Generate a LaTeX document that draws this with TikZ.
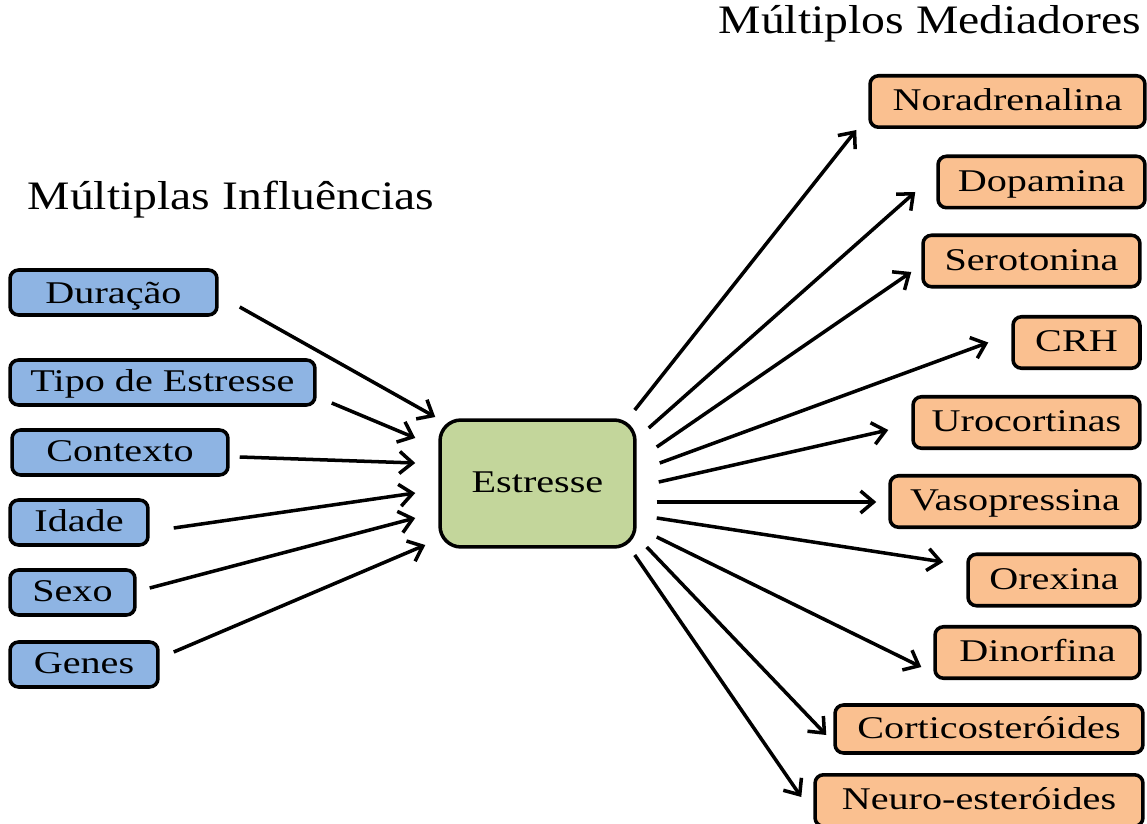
\documentclass[tikz,border=0pt]{standalone}
\usepackage{fontspec}
\setmainfont[FakeStretch=1.27]{Liberation Serif}
\newfontfamily\titlefont[FakeStretch=1.18]{Liberation Serif}
\usetikzlibrary{arrows.meta}
\definecolor{bluefill}{HTML}{8EB4E3}
\definecolor{greenfill}{HTML}{C3D69B}
\definecolor{orangefill}{HTML}{FAC090}
\tikzset{
  basebox/.style={draw=black, line width=2pt, rounded corners=0.17cm, inner sep=0pt,
    text height=0.66em, text depth=0pt, font=\fontsize{18}{21}\selectfont},
  inbox/.style={basebox, fill=bluefill, minimum height=0.9cm},
  outbox/.style={basebox, fill=orangefill, minimum height=1.03cm},
  centerbox/.style={basebox, fill=greenfill, rounded corners=0.42cm},
  titletext/.style={inner sep=0pt, font=\titlefont\fontsize{23}{27}\selectfont, anchor=base},
  arr/.style={line width=2pt, -{Straight Barb[length=0.26cm,width=0.44cm,line width=2pt]}}
}
\begin{document}
\begin{tikzpicture}[x=0.02cm,y=-0.02cm]
\useasboundingbox (0,0) rectangle (1147,824);
% titles
\node[titletext] (tin) at (231,210) {Múltiplas Influências};
\node[titletext] (tout) at (930,34) {Múltiplos Mediadores};
% influences
\node[inbox, minimum width=4.14cm] (dur) at (113.5,292.5) {\raisebox{-3pt}{Duração}};
\node[inbox, minimum width=6.10cm] (tipo) at (162.5,382.5) {\raisebox{-2pt}{Tipo de Estresse}};
\node[inbox, minimum width=4.32cm] (cont) at (120,452.5) {\raisebox{-2pt}{Contexto}};
\node[inbox, minimum width=2.76cm] (idade) at (79,522.5) {\raisebox{-2pt}{Idade}};
\node[inbox, minimum width=2.50cm] (sexo) at (72.5,592.5) {\raisebox{-2pt}{Sexo}};
\node[inbox, minimum width=2.96cm] (genes) at (84,664.5) {\raisebox{-2pt}{Genes}};
% center
\node[centerbox, minimum width=3.90cm, minimum height=2.54cm] (est) at (537.5,483.5) {\raisebox{-2pt}{Estresse}};
% mediators
\node[outbox, minimum width=5.50cm] (nor) at (1007.5,101.5) {\raisebox{-2pt}{Noradrenalina}};
\node[outbox, minimum width=4.14cm] (dop) at (1041.5,182) {\raisebox{-2pt}{Dopamina}};
\node[outbox, minimum width=4.34cm] (ser) at (1031.5,261) {\raisebox{-2pt}{Serotonina}};
\node[outbox, minimum width=2.54cm] (crh) at (1076.5,342.5) {\raisebox{-2pt}{CRH}};
\node[outbox, minimum width=4.54cm] (uro) at (1026.5,422.5) {\raisebox{-2pt}{Urocortinas}};
\node[outbox, minimum width=5.00cm] (vaso) at (1015,501.5) {\raisebox{-2pt}{Vasopressina}};
\node[outbox, minimum width=3.44cm] (orex) at (1054,580) {\raisebox{-2pt}{Orexina}};
\node[outbox, minimum width=4.10cm] (dino) at (1037.5,652.5) {\raisebox{-2pt}{Dinorfina}};
\node[outbox, minimum width=6.16cm, minimum height=0.96cm] (cort) at (989,729) {\raisebox{-2pt}{Corticosteróides}};
\node[outbox, minimum width=6.56cm] (neuro) at (979,800.5) {\raisebox{-2pt}{Neuro-esteróides}};
% incoming arrows
\draw[arr] ([shift={(21,14.5)}]dur.east) -- ([shift={(-3,-66.5)}]est.west);
\draw[arr] ([shift={(15,20.5)}]tipo.east) -- ([shift={(-23,-45.5)}]est.west);
\draw[arr] ([shift={(10,4.5)}]cont.east) -- ([shift={(-23,-20.5)}]est.west);
\draw[arr] ([shift={(24,5.5)}]idade.east) -- ([shift={(-23,9.5)}]est.west);
\draw[arr] ([shift={(13,-4.5)}]sexo.east) -- ([shift={(-23,34.5)}]est.west);
\draw[arr] ([shift={(14,-12.5)}]genes.east) -- ([shift={(-13,61.5)}]est.west);
% outgoing arrows
\draw[arr] ([shift={(-2,-73.5)}]est.east) -- ([shift={(-12,28.5)}]nor.west);
\draw[arr] ([shift={(12,-55.5)}]est.east) -- ([shift={(-21,10)}]dop.west);
\draw[arr] ([shift={(20,-36.5)}]est.east) -- ([shift={(-10,11)}]ser.west);
\draw[arr] ([shift={(23,-20.5)}]est.east) -- ([shift={(-23,0)}]crh.west);
\draw[arr] ([shift={(22,-1.5)}]est.east) -- ([shift={(-23,7.5)}]uro.west);
\draw[arr] ([shift={(20,18.5)}]est.east) -- ([shift={(-12,0.5)}]vaso.west);
\draw[arr] ([shift={(20,34.5)}]est.east) -- ([shift={(-23,-18)}]orex.west);
\draw[arr] ([shift={(20,53.5)}]est.east) -- ([shift={(-12,14.5)}]dino.west);
\draw[arr] ([shift={(10,63.5)}]est.east) -- ([shift={(-7,6)}]cort.west);
\draw[arr] ([shift={(-2,71.5)}]est.east) -- ([shift={(-12,-3.5)}]neuro.west);
\end{tikzpicture}
\end{document}
